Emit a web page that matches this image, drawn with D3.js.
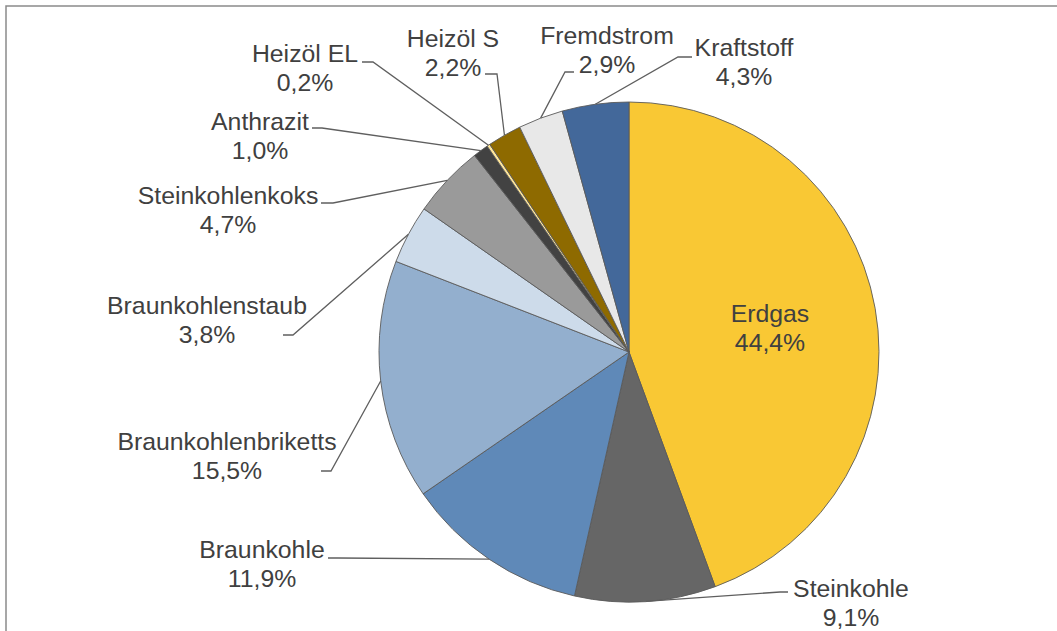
<!DOCTYPE html>
<html>
<head>
<meta charset="utf-8">
<script src="https://cdn.jsdelivr.net/npm/d3@7"></script>
<style>
  html, body { margin: 0; padding: 0; background: #fff; overflow: hidden; }
  svg { display: block; }
  text { font-family: "Liberation Sans", Arial, sans-serif; font-size: 24.8px; fill: #404040; }
</style>
</head>
<body>
<svg id="chart" width="1057" height="631"></svg>
<script>
// ---- data ----
const categories = ["Erdgas", "Steinkohle", "Braunkohle", "Braunkohlenbriketts", "Braunkohlenstaub",
  "Steinkohlenkoks", "Anthrazit", "Heizöl EL", "Heizöl S", "Fremdstrom", "Kraftstoff"];
const values = [44.4, 9.1, 11.9, 15.5, 3.8, 4.7, 1.0, 0.2, 2.2, 2.9, 4.3];
const colors = ["#F9C834", "#666666", "#5F89B8", "#93AFCE", "#CDDBEA",
  "#9A9A9A", "#424242", "#FFE699", "#8E6A00", "#E8E8E8", "#43689A"];

// ---- label layout (text centre x, first baseline y, leader start & elbow) ----
const labelLayout = [
  { x: 770, y: 322, lead: null },
  { x: 851, y: 597, lead: [[788, 592], [780, 592]] },
  { x: 262, y: 558, lead: [[328, 558], [338, 558]] },
  { x: 227, y: 450, lead: [[321, 471], [331, 471]] },
  { x: 207, y: 314, lead: [[283, 335], [293, 335]] },
  { x: 228, y: 204, lead: [[321, 203], [333, 203]] },
  { x: 260, y: 130, lead: [[312, 128], [322, 128]] },
  { x: 305, y: 62, lead: [[362, 62], [373, 62]] },
  { x: 453, y: 47, lead: [[485, 74], [497, 74]] },
  { x: 607, y: 44, lead: [[574, 72], [565, 72]] },
  { x: 744, y: 56, lead: [[692, 57], [678, 57]] }
];
const lineGap = 28.5;

const svg = d3.select("#chart");
const W = 1057, H = 631;
const cx = 629, cy = 352, R = 250;

// chart border (partially visible)
svg.append("path")
  .attr("d", `M6,${H + 2} L6,6 L${W + 2},6`)
  .attr("fill", "none")
  .attr("stroke", "#8a8a8a")
  .attr("stroke-width", 1.5);

const fmt = d3.formatLocale({ decimal: ",", thousands: ".", grouping: [3], currency: ["", "€"] }).format(".1f");

const pie = d3.pie().sort(null).value(d => d).startAngle(0).endAngle(2 * Math.PI);
const arcs = pie(values);
const arc = d3.arc().innerRadius(0).outerRadius(R);
const edgeArc = d3.arc().innerRadius(R).outerRadius(R);

const g = svg.append("g").attr("transform", `translate(${cx},${cy})`);
g.selectAll("path.slice")
  .data(arcs)
  .enter().append("path")
  .attr("class", "slice")
  .attr("d", arc)
  .attr("fill", (d, i) => colors[i])
  .attr("stroke", "#5a5a5a")
  .attr("stroke-width", 0.9)
  .attr("stroke-linejoin", "round");

// leader lines
const line = d3.line();
arcs.forEach((d, i) => {
  const L = labelLayout[i];
  if (!L.lead) return;
  const c = edgeArc.centroid(d);
  const pts = [L.lead[0], L.lead[1], [cx + c[0], cy + c[1]]];
  svg.append("path")
    .attr("d", line(pts))
    .attr("fill", "none")
    .attr("stroke", "#5f5f5f")
    .attr("stroke-width", 1.3);
});

// labels
arcs.forEach((d, i) => {
  const L = labelLayout[i];
  const t = svg.append("text")
    .attr("text-anchor", "middle")
    .attr("x", L.x)
    .attr("y", L.y);
  t.append("tspan").attr("x", L.x).attr("y", L.y).text(categories[i]);
  t.append("tspan").attr("x", L.x).attr("y", L.y + lineGap).text(fmt(values[i]) + "%");
});
</script>
</body>
</html>
